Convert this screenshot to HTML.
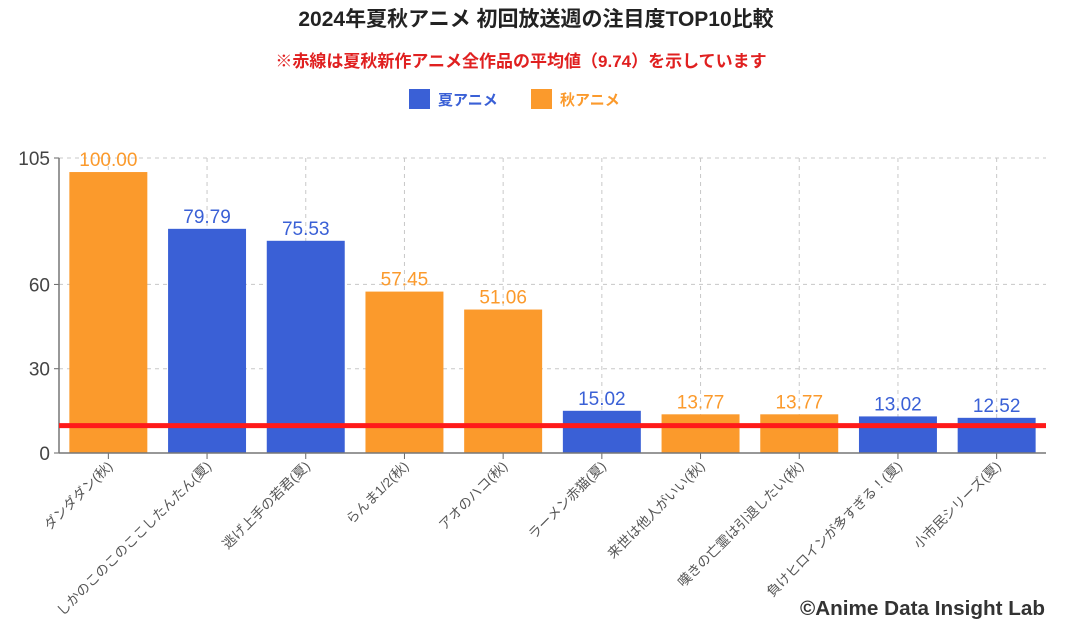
<!DOCTYPE html>
<html><head><meta charset="utf-8">
<style>
body{margin:0;background:#fff;width:1072px;height:625px;overflow:hidden;font-family:"Liberation Sans","Noto Sans CJK JP",sans-serif;}
</style></head>
<body>
<svg id="chart" width="1072" height="625" xmlns="http://www.w3.org/2000/svg" font-family="Liberation Sans, Noto Sans CJK JP, sans-serif">
<text x="536" y="26" text-anchor="middle" font-size="21" font-weight="bold" fill="#222">2024年夏秋アニメ 初回放送週の注目度TOP10比較</text>
<text x="521" y="67" text-anchor="middle" font-size="17" font-weight="bold" fill="#e02020">※赤線は夏秋新作アニメ全作品の平均値（9.74）を示しています</text>
<g>
<rect x="409" y="89" width="21" height="20" fill="#3a60d6"/>
<text x="438" y="105" font-size="15" font-weight="bold" fill="#3a60d6">夏アニメ</text>
<rect x="531" y="89" width="21" height="20" fill="#fb9a2c"/>
<text x="560" y="105" font-size="15" font-weight="bold" fill="#fb9a2c">秋アニメ</text>
</g>
<g id="plot"></g>
<text x="1045" y="615" text-anchor="end" font-size="20" font-weight="bold" fill="#333" textLength="245" lengthAdjust="spacingAndGlyphs">©Anime Data Insight Lab</text>
</svg>
<script>
const categories=["ダンダダン(秋)","しかのこのこのここしたんたん(夏)","逃げ上手の若君(夏)","らんま1/2(秋)","アオのハコ(秋)","ラーメン赤猫(夏)","来世は他人がいい(秋)","嘆きの亡霊は引退したい(秋)","負けヒロインが多すぎる！(夏)","小市民シリーズ(夏)"];
const values=[100.00,79.79,75.53,57.45,51.06,15.02,13.77,13.77,13.02,12.52];
const seasons=["秋","夏","夏","秋","秋","夏","秋","秋","夏","夏"];
const yTicks=[0,30,60,105];
const average=[9.74];
const yMax=105;
const L=59,R=1046,T=158,B=453;
const NS="http://www.w3.org/2000/svg";
const g=document.getElementById('plot');
const y=v=>B-(v/yMax)*(B-T);
const band=(R-L)/categories.length;
const xc=i=>L+band*(i+0.5);
const col=s=>s==="夏"?"#3a60d6":"#fb9a2c";
function mk(t,a){const e=document.createElementNS(NS,t);for(const k in a)e.setAttribute(k,a[k]);g.appendChild(e);return e;}
yTicks.forEach(v=>{
  if(v>0){const l=mk('line',{x1:L,x2:R,y1:y(v),y2:y(v),stroke:'#c8c8c8','stroke-dasharray':'4,4'});
  
  }
  const t=mk('text',{x:L-9,y:y(v)+7,'text-anchor':'end','font-size':19,fill:'#444'});
  t.textContent=v;
  
  
  const tk=mk('line',{x1:L-5,x2:L,y1:y(v),y2:y(v),stroke:'#666'});
  
  
});
categories.forEach((c,i)=>{
  const l=mk('line',{x1:xc(i),x2:xc(i),y1:T,y2:B,stroke:'#c8c8c8','stroke-dasharray':'4,4'});
  
  
});
categories.forEach((c,i)=>{
  const w=band*0.79;
  const r=mk('rect',{x:xc(i)-w/2,y:y(values[i]),width:w,height:B-y(values[i]),fill:col(seasons[i])});
  
  
  const t=mk('text',{x:xc(i),y:y(values[i])-6,'text-anchor':'middle','font-size':19,fill:col(seasons[i])});
  t.textContent=values[i].toFixed(2);
  
  
  const tk=mk('line',{x1:xc(i),x2:xc(i),y1:B,y2:B+6,stroke:'#666'});
  
  
  const lx=xc(i)+5,ly=B+14;
  const lb=mk('text',{x:lx,y:ly,'text-anchor':'end','font-size':13.5,fill:'#555',transform:`rotate(-45 ${lx} ${ly})`});
  lb.textContent=c;
  
  
});
const ax=mk('line',{x1:L,x2:L,y1:T,y2:B,stroke:'#777','stroke-width':1.5});


const bx=mk('line',{x1:L,x2:R,y1:B,y2:B,stroke:'#777','stroke-width':1.5});


const av=mk('line',{x1:L,x2:R,y1:y(average[0]),y2:y(average[0]),stroke:'#ff1a1a','stroke-width':5});


</script>
</body></html>
